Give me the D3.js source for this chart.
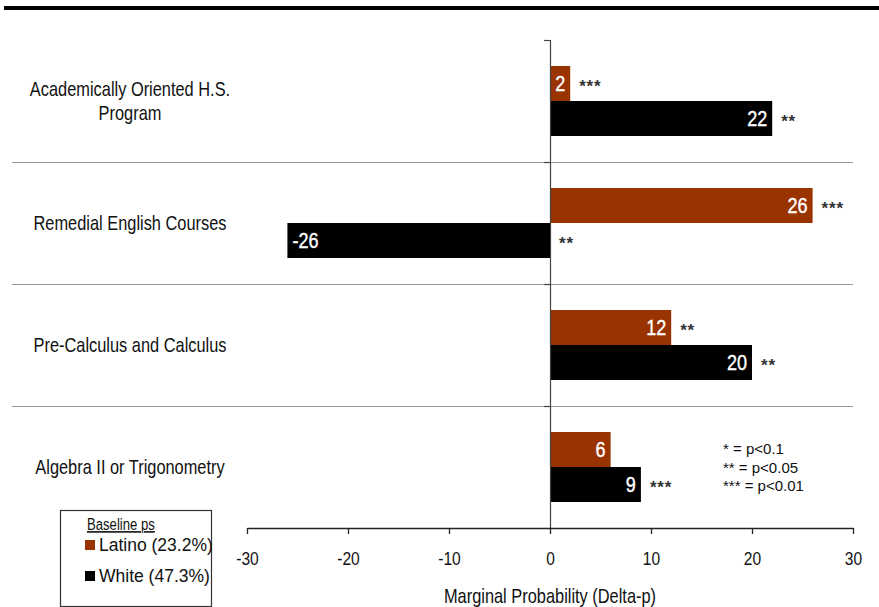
<!DOCTYPE html>
<html>
<head>
<meta charset="utf-8">
<script src="https://cdn.jsdelivr.net/npm/d3@7"></script>
<style>
  body { margin: 0; background: #fff; }
  svg { display: block; }
</style>
</head>
<body>
<div class="chart"></div>
<script>
// chart values
const categories = [
  ["Academically Oriented H.S.", "Program"],
  ["Remedial English Courses"],
  ["Pre-Calculus and Calculus"],
  ["Algebra II or Trigonometry"]
];
const seriesNames = ["Latino (23.2%)", "White (47.3%)"];
const latino = [2, 26, 12, 6];
const white = [22, -26, 20, 9];
const latinoStars = ["***", "***", "**", ""];
const whiteStars = ["**", "**", "**", "***"];
const xTicks = [-30, -20, -10, 0, 10, 20, 30];
const sigNotes = ["* = p<0.1", "** = p<0.05", "*** = p<0.01"];

const colors = ["#993300", "#000000"];
const sans = "'Liberation Sans', Arial, sans-serif";
const SX = 0.82; // squeeze Arial into an Arial Narrow look

const width = 879, height = 607;
const svg = d3.select(".chart").append("svg")
  .attr("width", width).attr("height", height);

// place a condensed text at (px,py)
function narrow(sel, px, py) {
  const f = v => typeof v === "function" ? v : () => v;
  return sel.attr("x", 0).attr("y", 0)
    .attr("font-family", sans)
    .attr("transform", (d, i) => `translate(${f(px)(d, i)},${f(py)(d, i)}) scale(${SX},1)`);
}

const x = d3.scaleLinear().domain([-30, 30]).range([247, 853]);
const y = d3.scaleBand().domain(d3.range(categories.length)).range([40, 528]);
const sub = d3.scaleBand().domain([0, 1]).range([26, 96]);

// top rule
svg.append("rect").attr("x", 4).attr("y", 6).attr("width", 875).attr("height", 4).attr("fill", "#000");

// category separators
svg.selectAll("line.sep")
  .data(d3.range(1, categories.length))
  .join("line")
  .attr("class", "sep")
  .attr("x1", 12).attr("x2", 853)
  .attr("y1", d => y(d) + 0.5).attr("y2", d => y(d) + 0.5)
  .attr("stroke", "#999").attr("stroke-width", 1.2);

// bars
const rows = categories.map((c, i) => ({
  i,
  vals: [
    { s: 0, v: latino[i], stars: latinoStars[i] },
    { s: 1, v: white[i], stars: whiteStars[i] }
  ]
}));

const g = svg.selectAll("g.row").data(rows).join("g")
  .attr("class", "row")
  .attr("transform", d => `translate(0,${y(d.i)})`);

const bar = g.selectAll("g.bar").data(d => d.vals).join("g").attr("class", "bar");

bar.append("rect")
  .attr("x", d => x(Math.min(0, d.v)))
  .attr("y", d => sub(d.s))
  .attr("width", d => Math.abs(x(d.v) - x(0)))
  .attr("height", sub.bandwidth())
  .attr("fill", d => colors[d.s]);

bar.append("text")
  .call(narrow, d => d.v < 0 ? x(d.v) + 5 : x(d.v) - 5, d => sub(d.s) + sub.bandwidth() / 2 + 7.5)
  .attr("text-anchor", d => d.v < 0 ? "start" : "end")
  .attr("fill", "#fff")
  .attr("font-size", 22)
  .attr("stroke", "#fff").attr("stroke-width", 0.4)
  .text(d => d.v);

bar.append("text")
  .attr("x", d => (d.v < 0 ? x(0) : x(d.v)) + 9)
  .attr("y", d => sub(d.s) + sub.bandwidth() / 2 + 8)
  .attr("fill", "#333")
  .attr("font-family", sans)
  .attr("font-weight", "bold")
  .attr("font-size", 17)
  .attr("letter-spacing", 0.8)
  .text(d => d.stars);

// category labels
g.selectAll("text.cat")
  .data(d => categories[d.i].map((t, k, arr) => ({ t, k, n: arr.length })))
  .join("text")
  .attr("class", "cat")
  .call(narrow, 130, d => y.bandwidth() / 2 + 7 + (d.k - (d.n - 1) / 2) * 24)
  .attr("text-anchor", "middle")
  .attr("font-size", 20)
  .attr("fill", "#111")
  .text(d => d.t);

// zero line with its ticks
svg.append("line")
  .attr("x1", x(0) + 0.5).attr("x2", x(0) + 0.5)
  .attr("y1", 40).attr("y2", 528)
  .attr("stroke", "#444").attr("stroke-width", 1.2);
svg.selectAll("line.ytick")
  .data(d3.range(categories.length))
  .join("line")
  .attr("class", "ytick")
  .attr("x1", x(0) - 6).attr("x2", x(0))
  .attr("y1", d => y(d) + 0.5).attr("y2", d => y(d) + 0.5)
  .attr("stroke", "#444").attr("stroke-width", 1.2);

// x axis
const xAxis = svg.append("g")
  .attr("transform", `translate(0,${528})`)
  .call(d3.axisBottom(x).tickValues(xTicks).tickFormat(d => String(d)).tickSize(6).tickSizeOuter(0));
xAxis.select(".domain").attr("stroke", "#222").attr("stroke-width", 1.3);
xAxis.selectAll(".tick line").attr("stroke", "#222").attr("stroke-width", 1.3);
xAxis.selectAll(".tick text")
  .attr("dy", null)
  .call(narrow, 0, 37)
  .attr("font-size", 19).attr("fill", "#111");

svg.append("text")
  .call(narrow, x(0), 603)
  .attr("text-anchor", "middle")
  .attr("font-size", 20).attr("fill", "#111")
  .text("Marginal Probability (Delta-p)");

// significance notes
svg.selectAll("text.sig").data(sigNotes).join("text")
  .attr("class", "sig")
  .attr("x", 723)
  .attr("y", (d, i) => 454 + i * 18.5)
  .attr("font-family", sans)
  .attr("font-size", 15).attr("fill", "#111")
  .text(d => d);

// legend box
const lg = svg.append("g");
lg.append("rect")
  .attr("x", 60.5).attr("y", 510.5).attr("width", 151).attr("height", 96)
  .attr("fill", "#fff").attr("stroke", "#333").attr("stroke-width", 1.2);
lg.append("text")
  .call(narrow, 87, 530)
  .attr("font-size", 16).attr("fill", "#111")
  .attr("text-decoration", "underline")
  .text("Baseline ps");
const li = lg.selectAll("g.li").data(seriesNames).join("g")
  .attr("class", "li")
  .attr("transform", (d, i) => `translate(0,${545 + i * 31})`);
li.append("rect").attr("x", 85).attr("y", -5).attr("width", 10).attr("height", 10)
  .attr("fill", (d, i) => colors[i]);
li.append("text").attr("x", 99).attr("y", 6)
  .attr("font-family", sans)
  .attr("font-size", 17.5).attr("fill", "#111")
  .text(d => d);
</script>
</body>
</html>
